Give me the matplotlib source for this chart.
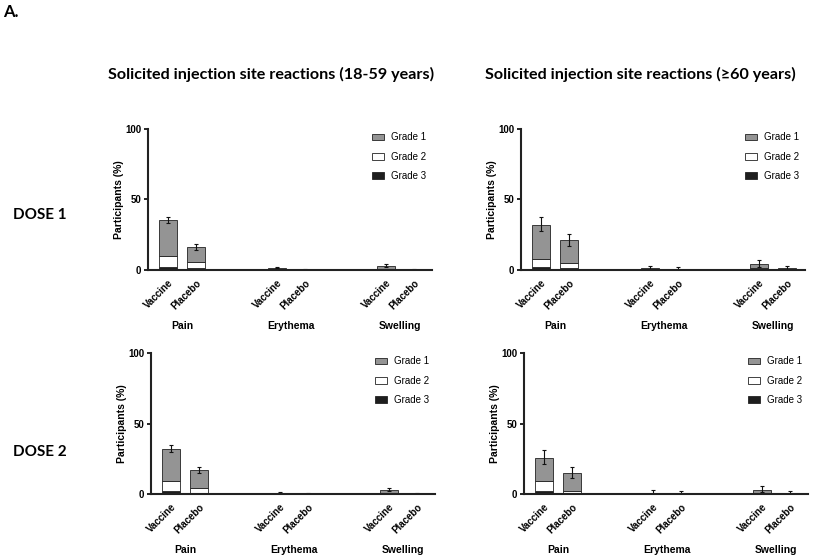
import numpy as np
import matplotlib
matplotlib.use('Agg')
import matplotlib.pyplot as plt
from matplotlib.patches import Patch

plt.rcParams['font.family'] = ['Liberation Sans', 'DejaVu Sans']

groups = ['Pain', 'Erythema', 'Swelling']
arms = ['Vaccine', 'Placebo']
grades = ['Grade 1', 'Grade 2', 'Grade 3']

# order: Pain-V, Pain-P, Erythema-V, Erythema-P, Swelling-V, Swelling-P
# dose 1, 18-59 years
d1y_g1 = [25.4, 10.7, 1.0, 0.3, 2.1, 0.2]
d1y_g2 = [7.8, 4.0, 0.3, 0.0, 0.6, 0.0]
d1y_g3 = [2.2, 1.2, 0.2, 0.0, 0.2, 0.0]
d1y_lo = [33.0, 14.0, 1.0, 0.0, 2.2, 0.0]
d1y_hi = [37.8, 18.0, 2.2, 0.6, 3.8, 0.6]

# dose 1, >=60 years
d1o_g1 = [24.7, 16.9, 0.9, 0.3, 3.3, 0.7]
d1o_g2 = [5.5, 3.1, 0.3, 0.2, 0.7, 0.3]
d1o_g3 = [1.9, 1.4, 0.2, 0.0, 0.3, 0.0]
d1o_lo = [27.3, 17.1, 0.5, 0.0, 1.9, 0.0]
d1o_hi = [37.3, 25.7, 2.9, 2.0, 6.6, 2.9]

# dose 2, 18-59 years
d2y_g1 = [23.3, 12.8, 0.4, 0.1, 2.3, 0.1]
d2y_g2 = [6.9, 3.1, 0.2, 0.0, 0.5, 0.0]
d2y_g3 = [1.9, 0.7, 0.1, 0.0, 0.1, 0.0]
d2y_lo = [30.0, 15.0, 0.4, 0.0, 2.2, 0.0]
d2y_hi = [34.4, 18.8, 1.2, 0.5, 3.8, 0.4]

# dose 2, >=60 years
d2o_g1 = [16.7, 12.6, 0.4, 0.1, 2.2, 0.3]
d2o_g2 = [7.1, 1.6, 0.2, 0.1, 0.5, 0.2]
d2o_g3 = [1.9, 0.5, 0.1, 0.0, 0.2, 0.0]
d2o_lo = [21.1, 11.2, 0.0, 0.0, 1.4, 0.0]
d2o_hi = [30.9, 19.2, 2.6, 2.0, 5.7, 2.0]

col_g1 = '#949494'
col_g2 = '#ffffff'
col_g3 = '#1e1e1e'

fig = plt.figure(figsize=(8.13, 5.58), dpi=100)

# positions: two bars per group, groups spaced apart
group_step = 3.9
xpos = np.array([g * group_step + a for g in range(len(groups)) for a in range(len(arms))])


def draw_panel(ax, g1, g2, g3, lo, hi):
    g1 = np.array(g1); g2 = np.array(g2); g3 = np.array(g3)
    w = 0.65
    ax.bar(xpos, g3, w, color=col_g3, edgecolor='#222222', linewidth=0.6)
    ax.bar(xpos, g2, w, bottom=g3, color=col_g2, edgecolor='#222222', linewidth=0.6)
    ax.bar(xpos, g1, w, bottom=g3 + g2, color=col_g1, edgecolor='#222222', linewidth=0.6)
    tot = g1 + g2 + g3
    lo = np.array(lo); hi = np.array(hi)
    ax.errorbar(xpos, tot, yerr=[tot - lo, hi - tot], fmt='none', ecolor='#111111',
                elinewidth=0.8, capsize=1.2, capthick=0.8)
    ax.set_xlim(-0.72, 9.43)
    ax.set_ylim(0, 100)
    ax.set_yticks([0, 50, 100])
    ax.set_yticklabels(['0', '50', '100'], fontsize=7, fontweight='bold')
    ax.set_xticks(xpos)
    ax.set_xticklabels(arms * len(groups), rotation=45, ha='right', rotation_mode='anchor',
                       fontsize=7, fontweight='bold')
    ax.tick_params(axis='x', length=0, pad=6)
    ax.tick_params(axis='y', length=3, width=1.2, pad=2)
    for s in ['top', 'right']:
        ax.spines[s].set_visible(False)
    for s in ['left', 'bottom']:
        ax.spines[s].set_linewidth(1.5)
        ax.spines[s].set_color('#222222')
    ax.set_ylabel('Participants (%)', fontsize=7.5, fontweight='bold', labelpad=1)
    for i, name in enumerate(groups):
        ax.text(i * group_step + 0.5, -40, name, transform=ax.transData, ha='center', va='center',
                fontsize=7.5, fontweight='bold')
    handles = [Patch(facecolor=col_g1, edgecolor='#222222', linewidth=0.6),
               Patch(facecolor=col_g2, edgecolor='#222222', linewidth=0.6),
               Patch(facecolor=col_g3, edgecolor='#222222', linewidth=0.6)]
    ax.legend(handles, grades, loc='upper right', bbox_to_anchor=(1.01, 1.04), frameon=False,
              fontsize=7, handlelength=1.25, handleheight=0.7, labelspacing=0.95, handletextpad=0.7)


ax1 = fig.add_axes([0.182, 0.5167, 0.349, 0.2516])
ax2 = fig.add_axes([0.641, 0.5167, 0.349, 0.2516])
ax3 = fig.add_axes([0.186, 0.1152, 0.349, 0.2516])
ax4 = fig.add_axes([0.6445, 0.1152, 0.349, 0.2516])

draw_panel(ax1, d1y_g1, d1y_g2, d1y_g3, d1y_lo, d1y_hi)
draw_panel(ax2, d1o_g1, d1o_g2, d1o_g3, d1o_lo, d1o_hi)
draw_panel(ax3, d2y_g1, d2y_g2, d2y_g3, d2y_lo, d2y_hi)
draw_panel(ax4, d2o_g1, d2o_g2, d2o_g3, d2o_lo, d2o_hi)

tfont = ['Lato', 'DejaVu Sans']
fig.text(0.004, 0.978, 'A.', fontsize=12, fontweight='bold', family=tfont, va='center', ha='left')
fig.text(0.333, 0.866, 'Solicited injection site reactions (18-59 years)', fontsize=11.6,
         fontweight='bold', family=tfont, ha='center', va='center')
fig.text(0.788, 0.866, 'Solicited injection site reactions (\u226560 years)', fontsize=11.6,
         fontweight='bold', family=tfont, ha='center', va='center')
fig.text(0.016, 0.615, 'DOSE 1', fontsize=11, fontweight='bold', family=tfont, ha='left', va='center')
fig.text(0.016, 0.190, 'DOSE 2', fontsize=11, fontweight='bold', family=tfont, ha='left', va='center')

fig.savefig('out.png', dpi=100)
